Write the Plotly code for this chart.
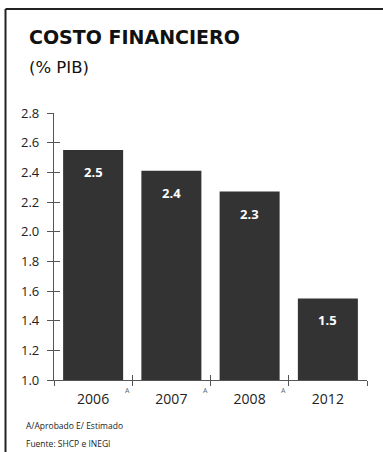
import plotly.graph_objects as go

years = ["2006", "2007", "2008", "2012"]
values = [2.55, 2.41, 2.27, 1.55]
value_labels = ["2.5", "2.4", "2.3", "1.5"]
superscripts = ["A", "A", "A", ""]
y_ticks = [1.0, 1.2, 1.4, 1.6, 1.8, 2.0, 2.2, 2.4, 2.6, 2.8]

W, H = 383, 452
L, R, T, B = 54, 16, 113, 72
FONT = "Open Sans"
TITLE_FONT = "DejaVu Sans"

def px(xp):
    return (xp - L) / (W - L - R)

def py(yp):
    return (H - B - yp) / (H - T - B)

fig = go.Figure()
fig.add_trace(go.Bar(x=years, y=values, marker=dict(color="#333333", line=dict(width=0)),
                     hoverinfo="skip"))
# invisible trace to activate overlay axes (crossing ticks)
fig.add_trace(go.Bar(x=years, y=values, xaxis="x2", yaxis="y2", opacity=0, hoverinfo="skip"))

axis_common = dict(showgrid=False, zeroline=False, layer="above traces")
fig.update_layout(
    width=W, height=H,
    margin=dict(l=L, r=R, t=T, b=B),
    paper_bgcolor="white", plot_bgcolor="white",
    showlegend=False, bargap=0.233,
    font=dict(family=FONT, color="#222"),
    xaxis=dict(type="category", range=[-0.5, 3.5], tickson="boundaries",
               ticks="outside", ticklen=5, tickcolor="#555", tickwidth=1.2,
               showline=True, linecolor="#555", linewidth=1.2, ticklabelstandoff=6,
               tickfont=dict(size=14, color="#222"), **axis_common),
    yaxis=dict(range=[1.0, 2.8], tickvals=y_ticks, ticktext=[f"{v:.1f}" for v in y_ticks],
               ticks="outside", ticklen=6, tickcolor="#555", tickwidth=1.2,
               showline=True, linecolor="#555", linewidth=1.2, ticklabelstandoff=5,
               tickfont=dict(size=13, color="#222"), **axis_common),
    xaxis2=dict(type="category", range=[-0.5, 3.5], tickson="boundaries", overlaying="x",
                ticks="inside", ticklen=5, tickcolor="#555", tickwidth=1.2,
                showticklabels=False, showline=False, anchor="y", side="bottom",
                **axis_common),
    yaxis2=dict(range=[1.0, 2.8], tickvals=y_ticks, overlaying="y", ticks="inside",
                ticklen=6, tickcolor="#555", tickwidth=1.2, showticklabels=False,
                showline=False, anchor="x", side="left", **axis_common),
)

annotations = []
for i, (v, lab, sup) in enumerate(zip(values, value_labels, superscripts)):
    annotations.append(dict(x=i, y=v, xref="x", yref="y", text=f"<b>{lab}</b>",
                            showarrow=False, yshift=-22, yanchor="middle",
                            font=dict(size=13, color="white", family=FONT)))
    if sup:
        annotations.append(dict(x=i, y=0, xref="x", yref="paper", text=sup,
                                showarrow=False, xshift=34, yshift=-10, yanchor="middle",
                                font=dict(size=7, color="#666", family=FONT)))

annotations += [
    dict(x=px(27), y=py(37), xref="paper", yref="paper", text="<b>COSTO FINANCIERO</b>",
         showarrow=False, xanchor="left", yanchor="middle",
         font=dict(size=19, color="#111", family=TITLE_FONT)),
    dict(x=px(27), y=py(67), xref="paper", yref="paper", text="(% PIB)",
         showarrow=False, xanchor="left", yanchor="middle",
         font=dict(size=16.5, color="#111", family=TITLE_FONT)),
    dict(x=px(24), y=py(425), xref="paper", yref="paper", text="A/Aprobado E/ Estimado",
         showarrow=False, xanchor="left", yanchor="middle",
         font=dict(size=8.5, color="#222", family=FONT)),
    dict(x=px(24), y=py(443), xref="paper", yref="paper", text="Fuente: SHCP e INEGI",
         showarrow=False, xanchor="left", yanchor="middle",
         font=dict(size=8.5, color="#222", family=FONT)),
]
fig.update_layout(annotations=annotations)

fig.update_layout(shapes=[
    dict(type="line", xref="paper", yref="paper", x0=px(5.5), x1=px(383), y0=py(9), y1=py(9),
         line=dict(color="#222", width=2)),
    dict(type="line", xref="paper", yref="paper", x0=px(5.5), x1=px(5.5), y0=py(9), y1=py(452),
         line=dict(color="#222", width=2)),
])

fig.write_html("out.html")
